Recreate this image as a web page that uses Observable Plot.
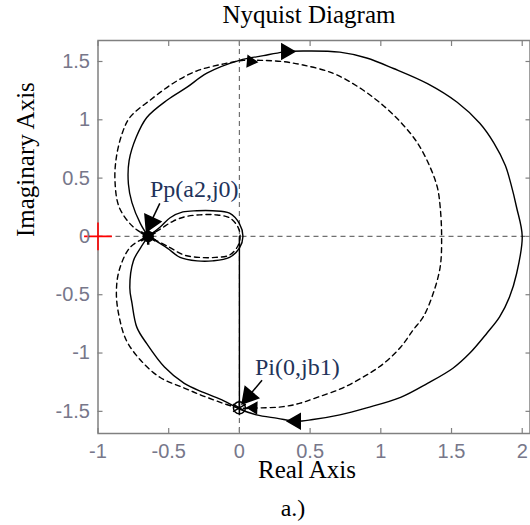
<!DOCTYPE html>
<html>
<head>
<meta charset="utf-8">
<script src="https://cdn.jsdelivr.net/npm/d3@7"></script>
<script src="https://cdn.jsdelivr.net/npm/@observablehq/plot@0.6"></script>
<style>
  html, body { margin: 0; padding: 0; background: #fff; }
  #chart { width: 530px; height: 525px; }
</style>
</head>
<body>
<div id="chart"></div>
<script>
// ---- data ----
const titleText = "Nyquist Diagram";
const xLabelText = "Real Axis";
const yLabelText = "Imaginary Axis";
const captionText = "a.)";

const xTicks = [-1, -0.5, 0, 0.5, 1, 1.5, 2];
const xTickLabels = ["-1", "-0.5", "0", "0.5", "1", "1.5", "2"];
const yTicks = [-1.5, -1, -0.5, 0, 0.5, 1, 1.5];
const yTickLabels = ["-1.5", "-1", "-0.5", "0", "0.5", "1", "1.5"];

// solid Nyquist contour (outer loop, clockwise from Pp)
const solidOuter = [
  [-0.645,0],[-0.70,0.11],[-0.76,0.29],[-0.785,0.45],[-0.78,0.65],[-0.73,0.85],[-0.655,1.02],
  [-0.51,1.17],[-0.37,1.28],[-0.23,1.40],[0.0,1.51],[0.17,1.55],[0.31,1.58],[0.45,1.59],
  [0.71,1.58],[0.90,1.53],[1.09,1.44],[1.33,1.31],[1.54,1.15],[1.70,0.97],[1.80,0.80],
  [1.88,0.61],[1.92,0.45],[1.96,0.25],[2.0,0.0],[1.96,-0.32],[1.91,-0.52],[1.84,-0.69],
  [1.75,-0.83],[1.63,-1.0],[1.51,-1.13],[1.33,-1.26],[1.14,-1.38],[0.90,-1.47],[0.71,-1.53],
  [0.52,-1.57],[0.40,-1.585],[0.27,-1.56],[0.12,-1.53],[0.0,-1.48],[-0.11,-1.41],[-0.25,-1.34],
  [-0.39,-1.26],[-0.53,-1.12],[-0.655,-0.92],[-0.725,-0.78],[-0.76,-0.57],[-0.775,-0.44],
  [-0.75,-0.21],[-0.70,-0.10],[-0.645,0]
];
// dashed Nyquist contour (outer loop)
const dashedOuter = [
  [-0.645,0],[-0.75,0.08],[-0.85,0.25],[-0.88,0.48],[-0.87,0.68],[-0.83,0.88],[-0.775,1.02],
  [-0.63,1.17],[-0.46,1.32],[-0.30,1.42],[-0.11,1.48],[0.03,1.51],[0.15,1.51],[0.30,1.50],
  [0.45,1.47],[0.66,1.40],[0.83,1.29],[0.99,1.15],[1.14,0.98],[1.26,0.80],[1.35,0.59],
  [1.40,0.42],[1.42,0.25],[1.43,0.0],[1.42,-0.26],[1.37,-0.49],[1.30,-0.69],[1.23,-0.80],
  [1.14,-0.95],[1.02,-1.09],[0.87,-1.21],[0.71,-1.31],[0.55,-1.38],[0.43,-1.43],[0.31,-1.46],
  [0.15,-1.47],[0.0,-1.47],[-0.23,-1.38],[-0.39,-1.30],[-0.56,-1.21],[-0.70,-1.06],[-0.80,-0.89],
  [-0.85,-0.69],[-0.87,-0.49],[-0.85,-0.29],[-0.77,-0.09],[-0.645,0]
];
// inner lobes
const solidInner = [
  [-0.645,0],[-0.56,0.08],[-0.49,0.16],[-0.40,0.21],[-0.30,0.22],[-0.19,0.22],[-0.07,0.20],
  [0.0,0.11],[0.025,0.0],[0.0,-0.10],[-0.07,-0.18],[-0.19,-0.21],[-0.30,-0.21],[-0.42,-0.18],
  [-0.51,-0.10],[-0.645,0]
];
const dashedInner = [
  [-0.645,0],[-0.55,0.07],[-0.47,0.13],[-0.38,0.17],[-0.28,0.185],[-0.17,0.185],[-0.07,0.16],
  [-0.01,0.08],[0.005,0],[-0.01,-0.08],[-0.07,-0.16],[-0.17,-0.18],[-0.28,-0.18],[-0.39,-0.16],
  [-0.50,-0.09],[-0.645,0]
];
// vertical segment from origin to Pi
const verticalSeg = [[0,0],[0,-1.47]];

// special points
const pointPp = [[-0.645, 0]];
const pointPi = [[0, -1.47]];
const criticalPoint = [[-1, 0]];

// direction arrowheads on curves: [x, y, angle (deg, clockwise from up)]
const solidArrowHeads = [[0.33, 1.585, 90], [0.40, -1.585, -90]];
const dashedArrowHeads = [[0.08, 1.50, 95], [0.10, -1.47, -88]];

// annotation pointers: [x1, y1, x2, y2, headAngle]
const pointers = [[-0.563, 0.283, -0.627, 0.12, -155], [0.16, -1.234, 0.065, -1.37, -140]];
const annotations = [
  {text: "Pp(a2,j0)", x: -0.633, y: 0.334},
  {text: "Pi(0,jb1)", x: 0.11, y: -1.19}
];

// ---- chart ----
const serif = "'Liberation Serif', 'Times New Roman', serif";
const sans = "'Liberation Sans', Arial, sans-serif";
const frameGray = "#808080";
const tickTextColor = "#77778a";

const lineOpts = {x: d => d[0], y: d => d[1], curve: "catmull-rom", stroke: "black", strokeWidth: 1.4};

const chart = Plot.plot({
  width: 530,
  height: 525,
  marginTop: 40,
  marginBottom: 92,
  marginLeft: 97.5,
  marginRight: 0.5,
  x: {domain: [-1, 2.055], axis: null},
  y: {domain: [-1.69, 1.68], axis: null},
  style: {background: "white", overflow: "visible"},
  marks: [
    // dashed zero lines
    Plot.ruleY([0], {stroke: "#707070", strokeWidth: 1.2, strokeDasharray: "5,4"}),
    Plot.ruleX([0], {stroke: "#707070", strokeWidth: 1.2, strokeDasharray: "5,4"}),
    // curves
    Plot.line(dashedOuter, {...lineOpts, strokeDasharray: "5,4"}),
    Plot.line(dashedInner, {...lineOpts, strokeDasharray: "5,4"}),
    Plot.line(solidOuter, lineOpts),
    Plot.line(solidInner, lineOpts),
    Plot.line(verticalSeg, {x: d => d[0], y: d => d[1], stroke: "black", strokeWidth: 1.4}),
    // arrowheads on curves
    Plot.dot(solidArrowHeads, {x: d => d[0], y: d => d[1], rotate: d => d[2], symbol: "triangle", r: 5.5, fill: "black", stroke: "black"}),
    Plot.dot(dashedArrowHeads, {x: d => d[0], y: d => d[1], rotate: d => d[2], symbol: "triangle", r: 4, fill: "black", stroke: "black"}),
    // points
    Plot.dot(pointPp, {x: d => d[0], y: d => d[1], symbol: "asterisk", r: 8, stroke: "black", strokeWidth: 2.5}),
    Plot.dot(pointPp, {x: d => d[0], y: d => d[1], symbol: "circle", r: 5, fill: "black", stroke: "black"}),
    Plot.dot(pointPi, {x: d => d[0], y: d => d[1], symbol: "asterisk", r: 7, stroke: "black", strokeWidth: 1.5}),
    Plot.dot(pointPi, {x: d => d[0], y: d => d[1], symbol: "circle", r: 6, fill: "none", stroke: "black", strokeWidth: 1.5}),
    // annotation pointers
    Plot.link(pointers, {x1: d => d[0], y1: d => d[1], x2: d => d[2], y2: d => d[3], stroke: "black", strokeWidth: 1.5}),
    Plot.dot(pointers, {x: d => d[2], y: d => d[3], rotate: d => d[4], symbol: "triangle", r: 6.5, fill: "black", stroke: "black"}),
    Plot.text(annotations, {x: "x", y: "y", text: "text", textAnchor: "start", lineAnchor: "bottom", fontSize: 24, fontFamily: serif, fill: "#22335a"}),
    // frame and ticks (inward, MATLAB style)
    Plot.frame({stroke: frameGray, strokeWidth: 1.5}),
    Plot.axisX({ticks: xTicks, anchor: "bottom", tickSize: -5, text: null, label: null, stroke: frameGray, strokeWidth: 1.2}),
    Plot.axisX({ticks: xTicks, anchor: "top", tickSize: -5, text: null, label: null, stroke: frameGray, strokeWidth: 1.2}),
    Plot.axisY({ticks: yTicks, anchor: "left", tickSize: -5, text: null, label: null, stroke: frameGray, strokeWidth: 1.2}),
    Plot.axisY({ticks: yTicks, anchor: "right", tickSize: -5, text: null, label: null, stroke: frameGray, strokeWidth: 1.2}),
    // critical point marker (-1, j0)
    Plot.dot(criticalPoint, {x: d => d[0], y: d => d[1], symbol: "plus", r: 9, stroke: "red", strokeWidth: 1.6}),
    // tick labels
    Plot.axisX({ticks: xTicks, anchor: "bottom", tickSize: 0, tickPadding: 10, label: null,
      tickFormat: d => xTickLabels[xTicks.indexOf(d)], fontSize: 20, fontFamily: sans, fill: tickTextColor}),
    Plot.axisY({ticks: yTicks, anchor: "left", tickSize: 0, tickPadding: 8, label: null,
      tickFormat: d => yTickLabels[yTicks.indexOf(d)], fontSize: 20, fontFamily: sans, fill: tickTextColor}),
    // titles
    Plot.text([titleText], {frameAnchor: "top", lineAnchor: "bottom", dy: -18, dx: -5, fontSize: 25, fontFamily: serif, fill: "black"}),
    Plot.text([xLabelText], {frameAnchor: "bottom", lineAnchor: "bottom", dy: 44, dx: -7, fontSize: 25, fontFamily: serif, fill: "black"}),
    Plot.text([captionText], {frameAnchor: "bottom", lineAnchor: "bottom", dy: 82, dx: -21, fontSize: 24, fontFamily: serif, fill: "black"}),
    Plot.text([yLabelText], {frameAnchor: "left", lineAnchor: "bottom", rotate: -90, dx: -64, fontSize: 25, fontFamily: serif, fill: "black"})
  ]
});
document.getElementById("chart").appendChild(chart);
</script>
</body>
</html>
